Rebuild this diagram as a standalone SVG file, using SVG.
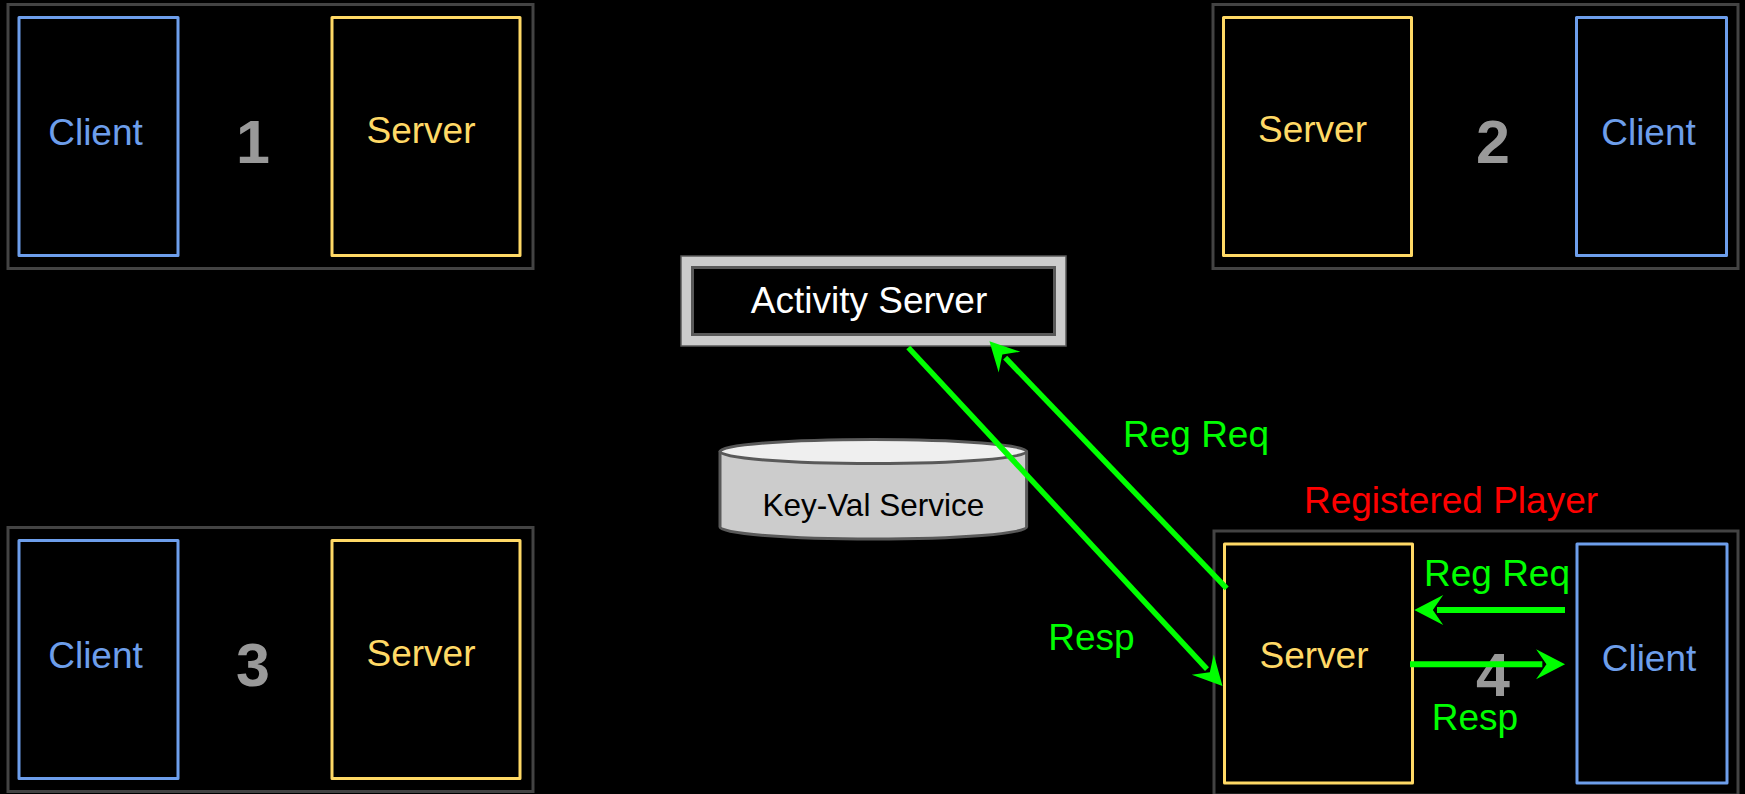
<svg xmlns="http://www.w3.org/2000/svg" width="1745" height="794" viewBox="0 0 1745 794">
  <style>
    .panel { fill: #000000; stroke: #434343; stroke-width: 3; }
    .client { fill: #000000; stroke: #6d9eeb; stroke-width: 3; stroke-linejoin: round; }
    .server { fill: #000000; stroke: #ffd966; stroke-width: 3; stroke-linejoin: round; }
    text { font-family: "Liberation Sans", Arial, sans-serif; text-anchor: middle; }
    .lbl { font-size: 37px; }
    .client-t { fill: #6d9eeb; }
    .server-t { fill: #ffd966; }
    .num { font-size: 61px; font-weight: bold; fill: #999999; }
    .green { fill: #00ff00; font-size: 37px; }
    .flow { stroke: #00ff00; fill: none; stroke-width: 5.5; marker-end: url(#head); }
  </style>
  <defs>
    <marker id="head" markerUnits="userSpaceOnUse" markerWidth="30" markerHeight="30" viewBox="0 0 28 29" refX="6" refY="14.5" orient="auto" overflow="visible">
      <path d="M0,0 L28,14.5 L0,29 L10,14.5 Z" fill="#00ff00"/>
    </marker>
  </defs>

  <rect x="0" y="0" width="1745" height="794" fill="#000000"/>

  <!-- pair 1 -->
  <g id="pair1">
    <rect class="panel" x="8" y="4.5" width="525" height="264"/>
    <rect class="client" x="19" y="17.5" width="159" height="238"/>
    <text class="lbl client-t" x="95.5" y="145">Client</text>
    <text class="num" x="253" y="163">1</text>
    <rect class="server" x="332" y="17.5" width="188" height="238"/>
    <text class="lbl server-t" x="421" y="143">Server</text>
  </g>

  <!-- pair 2 -->
  <g id="pair2">
    <rect class="panel" x="1213" y="4.5" width="525" height="264"/>
    <rect class="server" x="1223.5" y="17.5" width="188" height="238"/>
    <text class="lbl server-t" x="1312.5" y="142">Server</text>
    <text class="num" x="1493" y="163">2</text>
    <rect class="client" x="1576.5" y="17.5" width="150" height="238"/>
    <text class="lbl client-t" x="1648.5" y="145">Client</text>
  </g>

  <!-- pair 3 -->
  <g id="pair3">
    <rect class="panel" x="8" y="527.5" width="525" height="264"/>
    <rect class="client" x="19" y="540.5" width="159" height="238"/>
    <text class="lbl client-t" x="95.5" y="668">Client</text>
    <text class="num" x="253" y="686">3</text>
    <rect class="server" x="332" y="540.5" width="188" height="238"/>
    <text class="lbl server-t" x="421" y="666">Server</text>
  </g>

  <!-- pair 4: the registered player -->
  <g id="pair4">
    <text x="1451" y="513" font-size="37" fill="#ff0000">Registered Player</text>
    <rect class="panel" x="1214" y="531" width="524" height="264"/>
    <rect class="server" x="1224.5" y="544" width="188" height="239"/>
    <text class="lbl server-t" x="1314" y="668">Server</text>
    <text class="num" x="1493" y="696">4</text>
    <rect class="client" x="1577" y="544" width="150" height="239"/>
    <text class="lbl client-t" x="1649" y="671">Client</text>
  </g>

  <!-- activity server -->
  <g id="activity-server">
    <rect x="681" y="256" width="385" height="90" fill="#cccccc" stroke="#595959" stroke-width="1.5"/>
    <rect x="692.5" y="267.5" width="362" height="67" fill="#000000" stroke="#595959" stroke-width="3"/>
    <text class="lbl" x="869" y="313" fill="#ffffff">Activity Server</text>
  </g>

  <!-- key-value store -->
  <g id="key-val-service">
    <path d="M720,451.5 L720,527 A153.3,12 0 0 0 1026.6,527 L1026.6,451.5 Z" fill="#cccccc" stroke="#595959" stroke-width="3" stroke-linejoin="round"/>
    <ellipse cx="873.3" cy="451.5" rx="153.3" ry="12" fill="#efefef" stroke="#595959" stroke-width="3"/>
    <text x="873.3" y="516" font-size="31.5" fill="#000000">Key-Val Service</text>
  </g>

  <!-- connectors -->
  <g id="connectors">
    <path class="flow" d="M908.3,347.5 L1207,669.2"/>
    <path class="flow" d="M1226.7,588.3 L1005.2,357.6"/>
    <path class="flow" style="stroke-width:6" d="M1565,610 L1437,610"/>
    <path class="flow" style="stroke-width:6" d="M1410,664.3 L1542.3,664.3"/>
    <text class="green" x="1196" y="447">Reg Req</text>
    <text class="green" x="1091.5" y="650">Resp</text>
    <text class="green" x="1497" y="586">Reg Req</text>
    <text class="green" x="1475" y="730">Resp</text>
  </g>
</svg>
